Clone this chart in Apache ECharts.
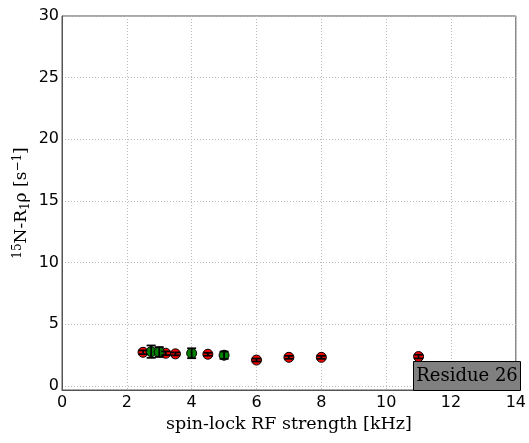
<!DOCTYPE html>
<html>
<head>
<meta charset="utf-8">
<script src="https://cdn.jsdelivr.net/npm/echarts@6/dist/echarts.min.js"></script>
<style>html,body{margin:0;padding:0;background:#fff;}#c{width:529px;height:443px;}</style>
</head>
<body>
<div id="c"></div>
<script>
// Red series: kHz, R1rho, error
var redX = [2.5, 3.2, 3.5, 4.5, 6.0, 7.0, 8.0, 11.0];
var redY = [2.73, 2.65, 2.6, 2.57, 2.1, 2.32, 2.32, 2.38];
var redErr = [0.15, 0.15, 0.12, 0.12, 0.12, 0.12, 0.12, 0.15];
// Green series
var greenX = [2.75, 3.0, 4.0, 5.0];
var greenY = [2.78, 2.75, 2.65, 2.49];
var greenErr = [0.5, 0.4, 0.4, 0.3];
var xTicks = [0, 2, 4, 6, 8, 10, 12, 14];
var yTicks = [0, 5, 10, 15, 20, 25, 30];
var residueLabel = 'Residue 26';

function pts(xs, ys, es) {
  return xs.map(function (x, i) { return [x, ys[i], es[i]]; });
}
var redData = pts(redX, redY, redErr);
var greenData = pts(greenX, greenY, greenErr);

function errRender(params, api) {
  var x = api.value(0), y = api.value(1), e = api.value(2);
  var lo = api.coord([x, y - e]);
  var hi = api.coord([x, y + e]);
  var cap = 4.5;
  var st = { stroke: '#000', lineWidth: 1.8 };
  return {
    type: 'group',
    children: [
      { type: 'line', shape: { x1: lo[0], y1: lo[1], x2: hi[0], y2: hi[1] }, style: st },
      { type: 'line', shape: { x1: lo[0] - cap, y1: lo[1], x2: lo[0] + cap, y2: lo[1] }, style: st },
      { type: 'line', shape: { x1: hi[0] - cap, y1: hi[1], x2: hi[0] + cap, y2: hi[1] }, style: st }
    ]
  };
}

var chart = echarts.init(document.getElementById('c'), null, { renderer: 'canvas' });
var tickFont = { fontFamily: 'DejaVu Sans', fontSize: 16, color: '#000' };
var gridLine = { show: true, lineStyle: { color: '#bbbbbb', type: [1, 2], width: 1 } };
chart.setOption({
  animation: false,
  backgroundColor: '#fff',
  grid: { left: 62, right: 12, top: 16, bottom: 53, show: true, borderColor: '#555', borderWidth: 1 },
  xAxis: {
    type: 'value', min: 0, max: 14, interval: 2,
    name: 'spin-lock RF strength [kHz]',
    nameLocation: 'middle', nameGap: 24,
    nameTextStyle: { fontFamily: 'DejaVu Serif', fontSize: 17.5, color: '#000' },
    axisLine: { show: true, onZero: false, lineStyle: { color: '#555' } },
    axisTick: { show: false },
    axisLabel: Object.assign({ margin: 5 }, tickFont),
    splitLine: gridLine
  },
  yAxis: {
    type: 'value', min: -0.33, max: 30,
    name: '{sup|15}{n|N-R}{sub|1}{n|ρ [s}{sup|−1}{n|]}',
    nameLocation: 'middle', nameGap: 30, nameRotate: 90, nameMoveOverlap: false,
    nameTextStyle: {
      rich: {
        n: { fontFamily: 'DejaVu Serif', fontSize: 17, color: '#000' },
        sup: { fontFamily: 'DejaVu Serif', fontSize: 12, color: '#000', verticalAlign: 'top', padding: [0, 0, 8, 0] },
        sub: { fontFamily: 'DejaVu Serif', fontSize: 12, color: '#000', verticalAlign: 'bottom', padding: [8, 0, 0, 0] }
      }
    },
    axisLine: { show: true, onZero: false, lineStyle: { color: '#555' } },
    axisTick: { show: false, customValues: yTicks },
    axisLabel: Object.assign({ margin: 3, customValues: yTicks }, tickFont),
    splitLine: gridLine
  },
  graphic: [{
    type: 'group', right: 8, bottom: 52, z: 100,
    children: [
      { type: 'rect', z: 100, shape: { x: 0, y: 0, width: 107, height: 29 }, style: { fill: '#808080', stroke: '#000', lineWidth: 1 } },
      { type: 'text', z: 101, x: 53.5, y: 14.5, style: { text: residueLabel, fontFamily: 'DejaVu Serif', fontSize: 18, fill: '#000', align: 'center', verticalAlign: 'middle' } }
    ]
  }],
  series: [
    { type: 'scatter', data: redData, symbol: 'circle', symbolSize: 10, itemStyle: { color: '#ff0000', borderColor: '#000', borderWidth: 1, opacity: 1 }, z: 3 },
    { type: 'scatter', data: greenData, symbol: 'circle', symbolSize: 10, itemStyle: { color: '#008000', borderColor: '#000', borderWidth: 1, opacity: 1 }, z: 3 },
    { type: 'custom', data: redData, renderItem: errRender, z: 4, silent: true },
    { type: 'custom', data: greenData, renderItem: errRender, z: 4, silent: true }
  ]
});
</script>
</body>
</html>
